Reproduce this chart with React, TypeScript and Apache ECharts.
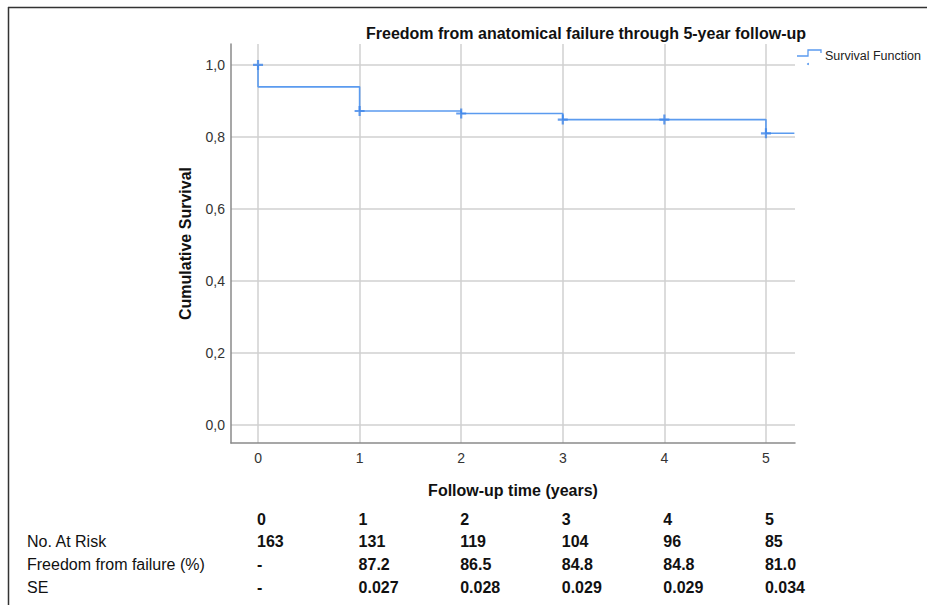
import React, { useEffect, useRef } from 'react';
import * as echarts from 'echarts';

const chartTitle = 'Freedom from anatomical failure through 5-year follow-up';
const xAxisTitle = 'Follow-up time (years)';
const yAxisTitle = 'Cumulative Survival';
const legendLabel = 'Survival Function';

// Kaplan-Meier step curve (time, cumulative survival)
const kmTimes = [0, 0, 1, 2, 3, 5, 5.28];
const kmSurvival = [1.0, 0.939, 0.872, 0.865, 0.848, 0.81, 0.81];

// censor marks
const censorTimes = [0, 1, 2, 3, 4, 5];
const censorSurvival = [1.0, 0.872, 0.865, 0.848, 0.848, 0.81];

// axis ticks
const xTicks = [0, 1, 2, 3, 4, 5];
const yTicks = [0, 0.2, 0.4, 0.6, 0.8, 1.0];

// risk table
const tableYears = ['0', '1', '2', '3', '4', '5'];
const rowLabels = ['No. At Risk', 'Freedom from failure (%)', 'SE'];
const atRisk = ['163', '131', '119', '104', '96', '85'];
const freedomPct = ['-', '87.2', '86.5', '84.8', '84.8', '81.0'];
const seValues = ['-', '0.027', '0.028', '0.029', '0.029', '0.034'];

const FONT = '"Liberation Sans", Arial, sans-serif';
const LINE_COLOR = '#5b9bef';
const CROSS = 'path://M0,3.9 L10,3.9 L10,6.1 L0,6.1 Z M3.9,0 L6.1,0 L6.1,10 L3.9,10 Z';

export default function App() {
  const ref = useRef<HTMLDivElement>(null);

  useEffect(() => {
    if (!ref.current) return;
    const chart = echarts.init(ref.current, undefined, { renderer: 'svg' });
    chart.setOption({
      animation: false,
      backgroundColor: '#ffffff',
      textStyle: { fontFamily: FONT },
      title: {
        text: chartTitle,
        left: 366,
        top: 25,
        padding: 0,
        textStyle: { fontFamily: FONT, fontSize: 16, fontWeight: 'bold', color: '#111' },
      },
      grid: { left: 231, top: 44, width: 564, height: 399, containLabel: false },
      xAxis: {
        type: 'value',
        min: -0.266,
        max: 5.286,
        name: xAxisTitle,
        nameLocation: 'middle',
        nameGap: 39,
        nameTextStyle: { fontFamily: FONT, fontSize: 16, fontWeight: 'bold', color: '#111' },
        axisLine: { show: true, onZero: false, lineStyle: { color: '#8a8a8a', width: 1.5 } },
        axisTick: { show: false, customValues: xTicks },
        axisLabel: {
          customValues: xTicks,
          margin: 8,
          fontSize: 14,
          color: '#333',
          fontFamily: FONT,
        },
        splitLine: { show: true, lineStyle: { color: '#d0d0d0', width: 1.5 } },
      },
      yAxis: {
        type: 'value',
        min: -0.05,
        max: 1.058,
        name: yAxisTitle,
        nameLocation: 'middle',
        nameRotate: 90,
        nameGap: 38,
        nameTextStyle: { fontFamily: FONT, fontSize: 16, fontWeight: 'bold', color: '#111' },
        axisLine: { show: true, onZero: false, lineStyle: { color: '#8a8a8a', width: 1.5 } },
        axisTick: { show: false, customValues: yTicks },
        axisLabel: {
          customValues: yTicks,
          margin: 6,
          fontSize: 14,
          color: '#333',
          fontFamily: FONT,
          formatter: (v: number) => v.toFixed(1).replace('.', ','),
        },
        splitLine: { show: true, lineStyle: { color: '#d0d0d0', width: 1.5 } },
      },
      series: [
        {
          type: 'line',
          step: 'end',
          data: kmTimes.map((t, i) => [t, kmSurvival[i]]),
          showSymbol: false,
          lineStyle: { color: LINE_COLOR, width: 1.6 },
          itemStyle: { color: LINE_COLOR },
          z: 3,
        },
        {
          type: 'scatter',
          data: censorTimes.map((t, i) => [t, censorSurvival[i]]),
          symbol: CROSS,
          symbolSize: 10,
          itemStyle: { color: '#3f86ea' },
          z: 4,
        },
      ],
    });

    const xs = xTicks.map((t) => chart.convertToPixel({ xAxisIndex: 0 }, t) as number);
    const rowsY = [541, 564, 587];
    const rows = [atRisk, freedomPct, seValues];
    const graphics: any[] = [
      // frame
      { type: 'line', shape: { x1: 8, y1: 7.5, x2: 927, y2: 7.5 }, style: { stroke: '#333', lineWidth: 1.5 } },
      { type: 'line', shape: { x1: 8.5, y1: 7, x2: 8.5, y2: 605 }, style: { stroke: '#333', lineWidth: 1.5 } },
      // legend
      {
        type: 'polyline',
        shape: { points: [[797, 56], [808, 56], [808, 50], [821, 50], [821, 53]] },
        style: { stroke: LINE_COLOR, lineWidth: 1.3, fill: null },
      },
      { type: 'circle', shape: { cx: 808, cy: 64, r: 1 }, style: { fill: LINE_COLOR } },
      {
        type: 'text',
        x: 825,
        y: 56,
        style: { text: legendLabel, font: `12.5px ${FONT}`, fill: '#222', verticalAlign: 'middle', align: 'left' },
      },
    ];
    tableYears.forEach((yr, i) => {
      graphics.push({
        type: 'text',
        x: xs[i] - 1,
        y: 519,
        style: { text: yr, font: `bold 16px ${FONT}`, fill: '#111', verticalAlign: 'middle', align: 'left' },
      });
    });
    rowLabels.forEach((lab, r) => {
      graphics.push({
        type: 'text',
        x: 27,
        y: rowsY[r],
        style: { text: lab, font: `16px ${FONT}`, fill: '#111', verticalAlign: 'middle', align: 'left' },
      });
      rows[r].forEach((v, i) => {
        graphics.push({
          type: 'text',
          x: xs[i] - 1,
          y: rowsY[r],
          style: { text: v, font: `bold 16px ${FONT}`, fill: '#111', verticalAlign: 'middle', align: 'left' },
        });
      });
    });
    chart.setOption({ graphic: graphics });

    return () => chart.dispose();
  }, []);

  return (
    <div
      ref={ref}
      style={{ position: 'absolute', left: 0, top: 0, width: 927, height: 605, background: '#fff' }}
    />
  );
}
